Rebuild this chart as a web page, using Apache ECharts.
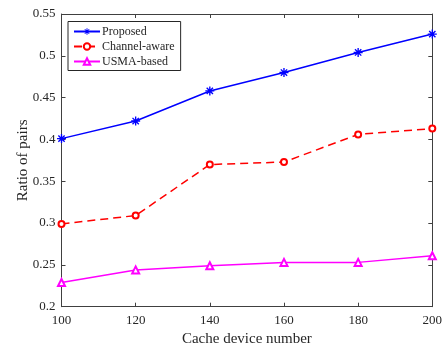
<!DOCTYPE html>
<html>
<head>
<meta charset="utf-8">
<script src="https://cdn.jsdelivr.net/npm/echarts@6/dist/echarts.min.js"></script>
<style>
  html, body { margin: 0; padding: 0; background: #fff; }
  #chart { width: 443px; height: 348px; }
</style>
</head>
<body>
<div id="chart"></div>
<script>
// Number of cache devices on the x axis
const deviceCounts = [100, 120, 140, 160, 180, 200];

// Ratio of pairs for each scheme
const proposed = [0.401, 0.422, 0.458, 0.480, 0.504, 0.526];
const channelAware = [0.299, 0.309, 0.370, 0.373, 0.406, 0.413];
const usmaBased = [0.229, 0.244, 0.249, 0.253, 0.253, 0.261];

const seriesNames = ['Proposed', 'Channel-aware', 'USMA-based'];

const FONT = 'Liberation Serif';
const INK = '#262626';
const AXIS = '#404040';

// Eight-armed asterisk marker built from four filled bars
const asterisk = 'path://' +
  'M-1.5,-10L1.5,-10L1.5,10L-1.5,10Z' +
  'M-10,-1.5L10,-1.5L10,1.5L-10,1.5Z' +
  'M-5.94,-8.06L8.06,5.94L5.94,8.06L-8.06,-5.94Z' +
  'M-8.06,5.94L5.94,-8.06L8.06,-5.94L-5.94,8.06Z';

const pairs = arr => arr.map((v, i) => [deviceCounts[i], v]);

const chart = echarts.init(document.getElementById('chart'));

const baseAxis = {
  axisLine: { show: true, lineStyle: { color: AXIS, width: 1 } },
  axisTick: { show: true, inside: true, length: 4, lineStyle: { color: AXIS } },
  splitLine: { show: false }
};

chart.setOption({
  animation: false,
  backgroundColor: '#fff',
  textStyle: { fontFamily: FONT },
  grid: {
    left: 61.5, right: 10.7, top: 14, bottom: 41.3,
    containLabel: false,
    outerBoundsMode: 'none'
  },
  legend: {
    data: seriesNames,
    orient: 'vertical',
    left: 68,
    top: 21.5,
    itemWidth: 26,
    itemHeight: 8,
    itemGap: 3,
    padding: [4, 6, 3, 5],
    borderColor: INK,
    borderWidth: 1,
    backgroundColor: '#fff',
    textStyle: { fontFamily: FONT, fontSize: 12, color: INK, padding: [0, 0, 0, -3] }
  },
  xAxis: [
    Object.assign({}, baseAxis, {
      type: 'value', min: 100, max: 200, interval: 20,
      name: 'Cache device number', nameLocation: 'middle', nameGap: 25,
      nameMoveOverlap: false,
      nameTextStyle: { fontFamily: FONT, fontSize: 15, color: INK },
      axisLabel: { fontFamily: FONT, fontSize: 13, color: INK, margin: 7 }
    }),
    Object.assign({}, baseAxis, {
      type: 'value', min: 100, max: 200, interval: 20, position: 'top',
      axisLabel: { show: false }
    })
  ],
  yAxis: [
    Object.assign({}, baseAxis, {
      type: 'value', min: 0.2, max: 0.55, interval: 0.05,
      name: 'Ratio of pairs', nameLocation: 'middle', nameGap: 31,
      nameMoveOverlap: false,
      nameTextStyle: { fontFamily: FONT, fontSize: 15, color: INK },
      axisLabel: { fontFamily: FONT, fontSize: 13, color: INK, margin: 6,
        formatter: v => String(+v.toFixed(2)) }
    }),
    Object.assign({}, baseAxis, {
      type: 'value', min: 0.2, max: 0.55, interval: 0.05, position: 'right',
      axisLabel: { show: false }
    })
  ],
  series: [
    {
      name: seriesNames[0], type: 'line', data: pairs(proposed),
      symbol: asterisk, symbolSize: 9,
      lineStyle: { color: '#0000ff', width: 1.5 },
      itemStyle: { color: '#0000ff' }
    },
    {
      name: seriesNames[1], type: 'line', data: pairs(channelAware),
      symbol: 'emptyCircle', symbolSize: 6,
      lineStyle: { color: '#ff0000', width: 1.5, type: [8, 5] },
      itemStyle: { color: '#ff0000', borderColor: '#ff0000', borderWidth: 1.5 }
    },
    {
      name: seriesNames[2], type: 'line', data: pairs(usmaBased),
      symbol: 'emptyTriangle', symbolSize: 7,
      lineStyle: { color: '#ff00ff', width: 1.5 },
      itemStyle: { color: '#ff00ff', borderColor: '#ff00ff', borderWidth: 1.5 }
    }
  ]
});
</script>
</body>
</html>
